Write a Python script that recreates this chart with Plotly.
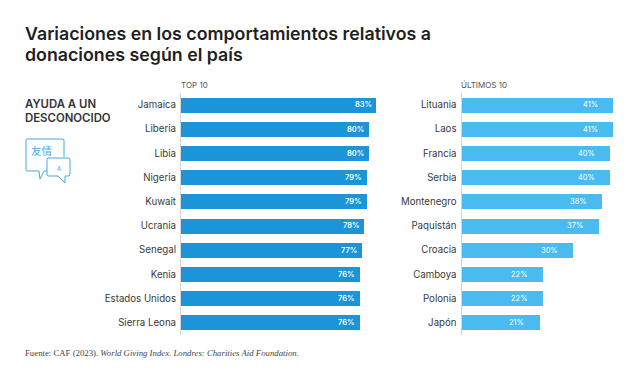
import plotly.graph_objects as go

top_names = ["Jamaica", "Liberia", "Libia", "Nigeria", "Kuwait", "Ucrania", "Senegal", "Kenia", "Estados Unidos", "Sierra Leona"]
top_values = [83, 80, 80, 79, 79, 78, 77, 76, 76, 76]
last_names = ["Lituania", "Laos", "Francia", "Serbia", "Montenegro", "Paquistán", "Croacia", "Camboya", "Polonia", "Japón"]
last_values = [41, 41, 40, 40, 38, 37, 30, 22, 22, 21]

W, H = 640, 384
FONT = "Inter"
DARK = "#2b2b2b"
BLUE1 = "#1b95d8"
BLUE2 = "#49bbf0"
ICON = "#4aa8d8"

def px(x): return x / W
def py(y): return 1 - y / H

fig = go.Figure()
for vals, names, color, xa, ya in [
    (top_values, top_names, BLUE1, "x", "y"),
    (last_values, last_names, BLUE2, "x2", "y2"),
]:
    fig.add_trace(go.Bar(x=vals, y=names, orientation="h", marker=dict(color=color, line_width=0),
                         width=0.62, xaxis=xa, yaxis=ya, showlegend=False, hoverinfo="skip"))

common_y = dict(autorange=False, range=[9.5, -0.5], type="category", showgrid=False, zeroline=False,
                showline=True, linecolor="#d5d5d5", linewidth=1, ticks="", ticklabelstandoff=2,
                tickfont=dict(family=FONT, size=9.7, color="#3a3a3a"))
common_x = dict(visible=False, showgrid=False, zeroline=False)
y_dom = [py(334.7), py(92.7)]
fig.update_layout(
    width=W, height=H, margin=dict(l=0, r=0, t=0, b=0), paper_bgcolor="white", plot_bgcolor="white",
    bargap=0, font=dict(family=FONT, color=DARK),
    xaxis=dict(common_x, domain=[px(181), px(376)], range=[0, 83]),
    yaxis=dict(common_y, domain=y_dom, anchor="x"),
    xaxis2=dict(common_x, domain=[px(461.5), px(613)], range=[0, 41]),
    yaxis2=dict(common_y, domain=y_dom, anchor="x2"),
)

annos = []
def text(x, y, s, size, color=DARK, anchor="left", family=FONT, weight="normal"):
    annos.append(dict(xref="paper", yref="paper", x=px(x), y=py(y), text=s, showarrow=False, xanchor=anchor,
                      yanchor="middle", align=anchor, font=dict(family=family, size=size, color=color, weight=weight),
                      borderpad=0, borderwidth=0))

text(25, 33, "Variaciones en los comportamientos relativos a", 17.8, "#1f1f1f", weight=600)
text(25, 55, "donaciones según el país", 17.8, "#1f1f1f", weight=600)
text(181, 85, "TOP 10", 8, "#555555")
text(461, 85, "ÚLTIMOS 10", 8, "#555555")
text(25, 103.7, "AYUDA A UN", 11.4, "#333333", weight=600)
text(25, 117.7, "DESCONOCIDO", 11.4, "#333333", weight=600)
text(25, 353, "Fuente: CAF (2023). <i>World Giving Index</i>. <i>Londres: Charities Aid Foundation.</i>", 8.75, "#444444", family="Liberation Serif")
text(41.5, 150, "友情", 10.5, ICON, anchor="center", family="Noto Sans CJK TC")
text(59, 168, "A", 6, ICON, anchor="center")

for vals, names, xa, ya, shift in [(top_values, top_names, "x", "y", -13), (last_values, last_names, "x2", "y2", -23)]:
    for v, n in zip(vals, names):
        annos.append(dict(xref=xa, yref=ya, x=v, y=n, text=f"{v}%", showarrow=False,
                          xshift=shift, xanchor="center", yanchor="middle",
                          font=dict(family=FONT, size=7.5, color="white", weight=600 if xa == "x" else 400)))
fig.update_layout(annotations=annos)

def path(points, close=False):
    return "M " + " L ".join(f"{px(x):.5f},{py(y):.5f}" for x, y in points) + (" Z" if close else "")

shapes = [
    dict(type="path", xref="paper", yref="paper", line=dict(color=ICON, width=1),
         path=path([(64, 157), (64, 140), (63, 139), (27, 139), (26, 140), (26, 170), (27, 171), (39, 171), (40, 179), (44, 171), (47, 171)])),
    dict(type="path", xref="paper", yref="paper", line=dict(color=ICON, width=1), fillcolor="white",
         path=path([(48, 158), (69, 158), (70, 159), (70, 175), (69, 176), (65, 176), (65, 183), (58, 176), (48, 176), (47, 175), (47, 159)], True)),
]
fig.update_layout(shapes=shapes)
fig.write_html("out.html", config=dict(displayModeBar=False),
               post_script="document.body.style.margin='0';document.documentElement.style.overflow='hidden';")
